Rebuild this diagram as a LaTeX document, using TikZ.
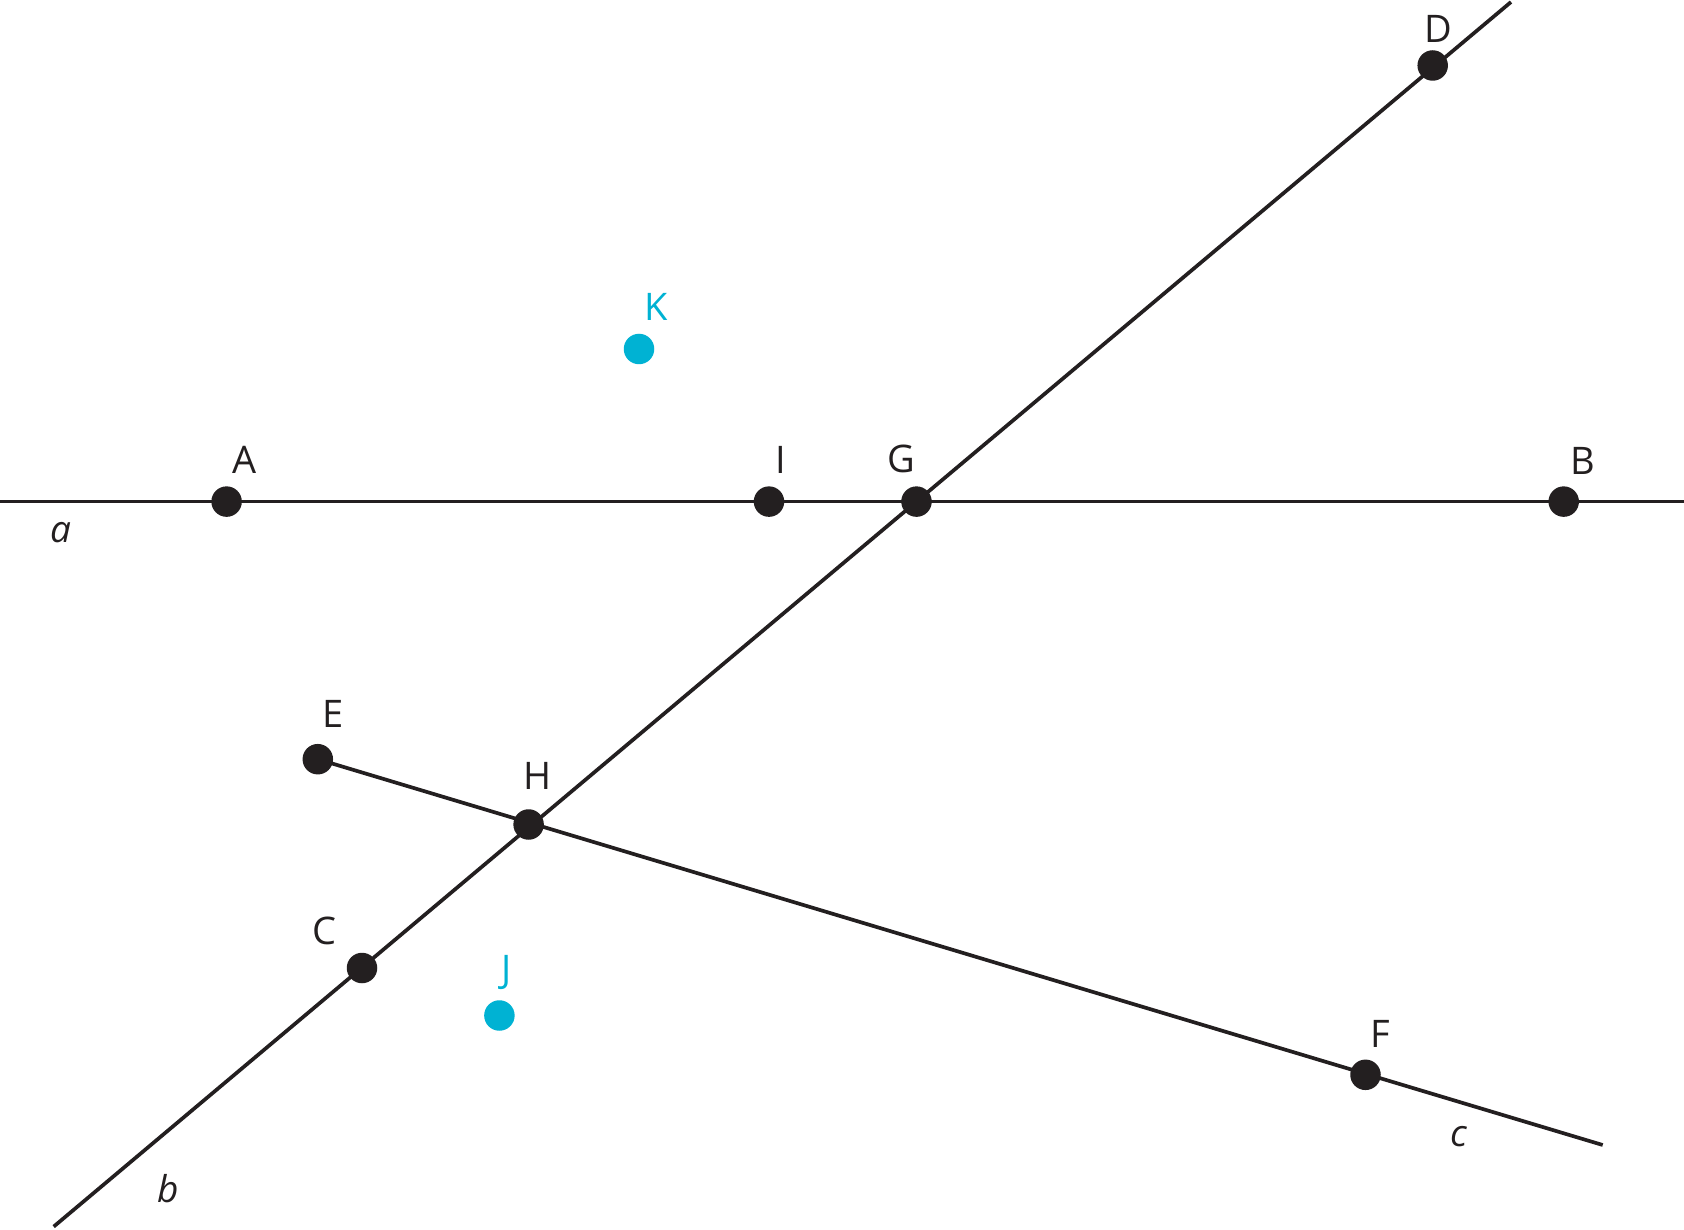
\documentclass[tikz,border=0pt]{standalone}
\usepackage{fontspec}
\setmainfont{Open Sans}
\definecolor{ink}{RGB}{35,31,32}
\definecolor{cyanpt}{RGB}{0,178,211}
\begin{document}
\begin{tikzpicture}[x=1pt,y=-1pt,
  lineseg/.style={draw=ink,line width=3.7pt},
  dot/.style={circle,fill=ink,inner sep=0pt,minimum size=30.5pt},
  cdot/.style={circle,fill=cyanpt,inner sep=0pt,minimum size=30.5pt},
  lbl/.style={inner sep=0pt,text=ink,font=\fontsize{38}{40}\selectfont},
  clbl/.style={inner sep=0pt,text=cyanpt,font=\fontsize{38}{40}\selectfont},
  ilbl/.style={inner sep=0pt,text=ink,font=\fontsize{37}{40}\selectfont\itshape}]
\useasboundingbox (0,0) rectangle (1684,1230);
% points
\coordinate (aL) at (0,501.6);
\coordinate (aR) at (1684,501.6);
\coordinate (bT) at (1511,2);
\coordinate (bB) at (53.7,1226.6);
\coordinate (cE) at (1602.7,1145);
\coordinate (pA) at (226.6,501.6);
\coordinate (pI) at (769,501.6);
\coordinate (pG) at (916.5,501.6);
\coordinate (pB) at (1563.7,501.6);
\coordinate (pD) at (1432.7,65.5);
\coordinate (pK) at (639,349);
\coordinate (pE) at (317.8,759.2);
\coordinate (pH) at (528.6,824.5);
\coordinate (pC) at (362,968);
\coordinate (pJ) at (499.4,1015.5);
\coordinate (pF) at (1365.5,1074.8);
% lines
\draw[lineseg] (aL) -- (aR);
\draw[lineseg] (bB) -- (bT);
\draw[lineseg] (pE) -- (cE);
% dots
\node[dot] (A) at (pA) {};
\node[dot] (I) at (pI) {};
\node[dot] (G) at (pG) {};
\node[dot] (B) at (pB) {};
\node[dot] (D) at (pD) {};
\node[dot] (E) at (pE) {};
\node[dot] (H) at (pH) {};
\node[dot] (C) at (pC) {};
\node[dot] (F) at (pF) {};
\node[cdot] (K) at (pK) {};
\node[cdot] (J) at (pJ) {};
% labels
\node[lbl] (lA) at (244.9,459.7) {A};
\node[lbl] (lI) at (781,459.7) {I};
\node[lbl] (lG) at (901.7,459) {G};
\node[lbl] (lB) at (1583,460.7) {B};
\node[lbl] (lD) at (1438.3,29.3) {D};
\node[clbl] (lK) at (656.2,307.2) {K};
\node[lbl] (lE) at (332.7,714) {E};
\node[lbl] (lH) at (537.7,776) {H};
\node[lbl] (lC) at (324,930.7) {C};
\node[clbl] (lJ) at (506.7,972.7) {J};
\node[lbl] (lF) at (1380.7,1034.3) {F};
\node[ilbl] (la) at (61.2,532.7) {a};
\node[ilbl] (lb) at (167.7,1188.3) {b};
\node[ilbl] (lc) at (1458.7,1136.7) {c};
\end{tikzpicture}
\end{document}
